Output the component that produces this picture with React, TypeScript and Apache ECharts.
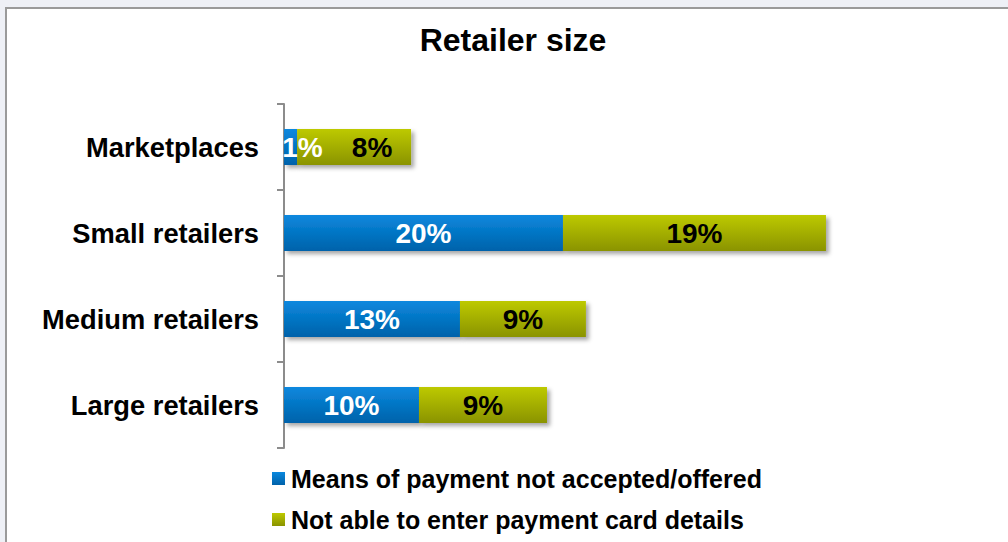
import React, { useEffect, useRef } from "react";
import * as echarts from "echarts";

const categories = ["Marketplaces", "Small retailers", "Medium retailers", "Large retailers"];
const seriesNames = ["Means of payment not accepted/offered", "Not able to enter payment card details"];
const notAccepted = [0.94, 20.07, 12.66, 9.71];
const notAbleCard = [8.2, 18.92, 9.06, 9.21];
const titleText = "Retailer size";

const blueGrad = new echarts.graphic.LinearGradient(0, 0, 0, 1, [
  { offset: 0, color: "#0a88de" },
  { offset: 1, color: "#0062aa" },
]);
const greenGrad = new echarts.graphic.LinearGradient(0, 0, 0, 1, [
  { offset: 0, color: "#bdc900" },
  { offset: 1, color: "#8a9300" },
]);

const FONT = "'Liberation Sans', Arial, sans-serif";

export default function App() {
  const ref = useRef<HTMLDivElement>(null);
  useEffect(() => {
    if (!ref.current) return;
    const chart = echarts.init(ref.current, null, { renderer: "svg" });
    const shadow = {
      shadowBlur: 4,
      shadowOffsetX: 3,
      shadowOffsetY: 3,
      shadowColor: "rgba(0,0,0,0.35)",
    };
    chart.setOption({
      animation: false,
      backgroundColor: "#eef0f6",
      graphic: [
        {
          type: "rect",
          z: -10,
          shape: { x: 6, y: 8, width: 1100, height: 600 },
          style: { fill: "#ffffff", stroke: "#9a9a9a", lineWidth: 2 },
          silent: true,
        },
      ],
      title: {
        text: titleText,
        left: 513,
        textAlign: "center",
        top: 24,
        padding: 0,
        textStyle: { fontFamily: FONT, fontSize: 32, fontWeight: "bold", color: "#000" },
      },
      grid: { left: 284, right: 168, top: 104, bottom: 94, containLabel: false },
      xAxis: {
        type: "value",
        min: 0,
        max: 40,
        show: false,
      },
      yAxis: {
        type: "category",
        data: categories,
        inverse: true,
        axisLine: { show: true, lineStyle: { color: "#8c8c8c", width: 2 } },
        axisTick: { show: true, length: 7, lineStyle: { color: "#8c8c8c", width: 2 } },
        axisLabel: {
          margin: 25,
          fontFamily: FONT,
          fontSize: 27.3,
          fontWeight: "bold",
          color: "#000",
        },
        splitLine: { show: false },
      },
      legend: {
        orient: "vertical",
        left: 272,
        top: 466,
        itemWidth: 13,
        itemHeight: 13,
        itemGap: 16,
        icon: "rect",
        padding: 0,
        textStyle: { fontFamily: FONT, fontSize: 25, fontWeight: "bold", color: "#000", padding: [0, 0, 0, 1] },
        data: seriesNames,
      },
      series: [
        {
          name: seriesNames[0],
          type: "bar",
          stack: "total",
          barWidth: 36,
          itemStyle: { color: blueGrad, ...shadow },
          label: {
            show: true,
            position: "inside",
            formatter: (p: any) => Math.round(p.value) + "%",
            fontFamily: FONT,
            fontSize: 28,
            fontWeight: "bold",
            color: "#fff",
          },
          data: notAccepted.map((v, i) =>
            i === 0 ? { value: v, label: { offset: [12, 0] } } : v
          ),
        },
        {
          name: seriesNames[1],
          type: "bar",
          stack: "total",
          barWidth: 36,
          itemStyle: { color: greenGrad, ...shadow },
          label: {
            show: true,
            position: "inside",
            formatter: (p: any) => Math.round(p.value) + "%",
            fontFamily: FONT,
            fontSize: 28,
            fontWeight: "bold",
            color: "#000",
          },
          data: notAbleCard.map((v, i) =>
            i === 0 ? { value: v, label: { offset: [18, 0] } } : v
          ),
        },
      ],
    });
    return () => chart.dispose();
  }, []);
  return (
    <div
      ref={ref}
      style={{ position: "fixed", left: 0, top: 0, width: 1008, height: 542 }}
    />
  );
}
